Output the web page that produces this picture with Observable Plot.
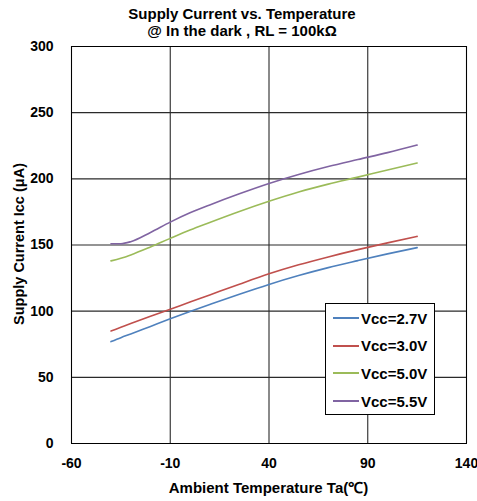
<!DOCTYPE html>
<html>
<head>
<meta charset="utf-8">
<script src="https://cdn.jsdelivr.net/npm/d3@7"></script>
<script src="https://cdn.jsdelivr.net/npm/@observablehq/plot@0.6"></script>
<style>
  html, body { margin: 0; padding: 0; background: #fff; }
  #wrap { position: relative; width: 477px; height: 501px; font-family: "Liberation Sans", Arial, sans-serif; }
  .ttl { position: absolute; font-weight: bold; color: #000; white-space: nowrap; }
  #legend { position: absolute; left: 325px; top: 303px; width: 108px; height: 110px; border: 1px solid #000; background: #fff; }
  .row { position: absolute; left: 0; height: 20px; display: flex; align-items: center; }
  .sw { width: 26px; height: 2px; margin-left: 7px; margin-right: 2px; }
  .lt { font-weight: bold; font-size: 15px; color: #000; }
</style>
</head>
<body>
<div id="wrap"></div>
<script>
const temps = [-40, -35, -30, -20, -10, 0, 10, 25, 40, 55, 70, 85, 100, 115];
const vcc27 = [77, 80, 82.8, 88.5, 94.2, 99.7, 105, 112.8, 120.2, 126.9, 132.9, 138.2, 143.3, 148];
const vcc30 = [85, 87.8, 90.6, 96.1, 101.5, 106.9, 112.3, 120.4, 128.2, 135, 141, 146.5, 151.6, 156.5];
const vcc50 = [138, 140, 142.5, 148.5, 155, 161.3, 167, 175.3, 183, 190, 196, 201.3, 206.7, 212];
const vcc55 = [151, 151, 152.5, 159.5, 167.3, 174.3, 180.3, 188.7, 196.5, 203.3, 209.3, 214.6, 219.8, 225.5];
const seriesNames = ["Vcc=2.7V", "Vcc=3.0V", "Vcc=5.0V", "Vcc=5.5V"];
const seriesColors = ["#4F81BD", "#C0504D", "#9BBB59", "#8064A2"];
const xTicks = [-60, -10, 40, 90, 140];
const yTicks = [0, 50, 100, 150, 200, 250, 300];
const titleLines = ["Supply Current vs. Temperature", "@ In the dark , RL = 100k\u03A9"];
const xTitle = "Ambient Temperature Ta(\u2103)";
const yTitle = "Supply Current Icc (\u03BCA)";

const allSeries = [vcc27, vcc30, vcc50, vcc55];
const rows = [];
allSeries.forEach((vals, i) => vals.forEach((v, j) => rows.push({ t: temps[j], v, s: seriesNames[i] })));

const chart = Plot.plot({
  width: 477,
  height: 501,
  marginTop: 46,
  marginBottom: 58,
  marginLeft: 71,
  marginRight: 11,
  style: { fontFamily: "Liberation Sans, Arial, sans-serif", background: "#fff" },
  x: { domain: [-60, 140], ticks: xTicks },
  y: { domain: [0, 300], ticks: yTicks },
  color: { domain: seriesNames, range: seriesColors },
  marks: [
    Plot.ruleX(xTicks, { stroke: "#2a2a2a", strokeWidth: 1.1 }),
    Plot.ruleY(yTicks, { stroke: "#2a2a2a", strokeWidth: 1.1 }),
    Plot.line(rows, { x: "t", y: "v", z: "s", stroke: "s", strokeWidth: 1.6, curve: "monotone-x" }),
    Plot.frame({ stroke: "#000", strokeWidth: 1 }),
    Plot.axisX({ ticks: xTicks, tickSize: 0, tickPadding: 15, fontSize: 14, fontWeight: "bold", label: null, tickFormat: d => String(d) }),
    Plot.axisY({ ticks: yTicks, tickSize: 0, tickPadding: 18, fontSize: 14, fontWeight: "bold", label: null })
  ]
});
chart.querySelectorAll("text").forEach(t => t.setAttribute("fill", "#000"));

const wrap = document.getElementById("wrap");
wrap.appendChild(chart);

function addText(txt, css) {
  const d = document.createElement("div");
  d.className = "ttl";
  d.textContent = txt;
  Object.assign(d.style, css);
  wrap.appendChild(d);
  return d;
}
addText(titleLines[0], { left: "0", width: "484px", textAlign: "center", top: "5px", fontSize: "15px" });
addText(titleLines[1], { left: "0", width: "484px", textAlign: "center", top: "22px", fontSize: "15px" });
addText(xTitle, { left: "71px", width: "395px", textAlign: "center", top: "477px", fontSize: "15px" });
addText(yTitle, { left: "18.5px", top: "244px", fontSize: "14.5px", transform: "translate(-50%, -50%) rotate(-90deg)" });

const legend = document.createElement("div");
legend.id = "legend";
seriesNames.forEach((n, i) => {
  const r = document.createElement("div");
  r.className = "row";
  r.style.top = (4 + i * 27.7) + "px";
  const sw = document.createElement("div");
  sw.className = "sw";
  sw.style.background = seriesColors[i];
  const lt = document.createElement("span");
  lt.className = "lt";
  lt.textContent = n;
  r.appendChild(sw);
  r.appendChild(lt);
  legend.appendChild(r);
});
wrap.appendChild(legend);
</script>
</body>
</html>
